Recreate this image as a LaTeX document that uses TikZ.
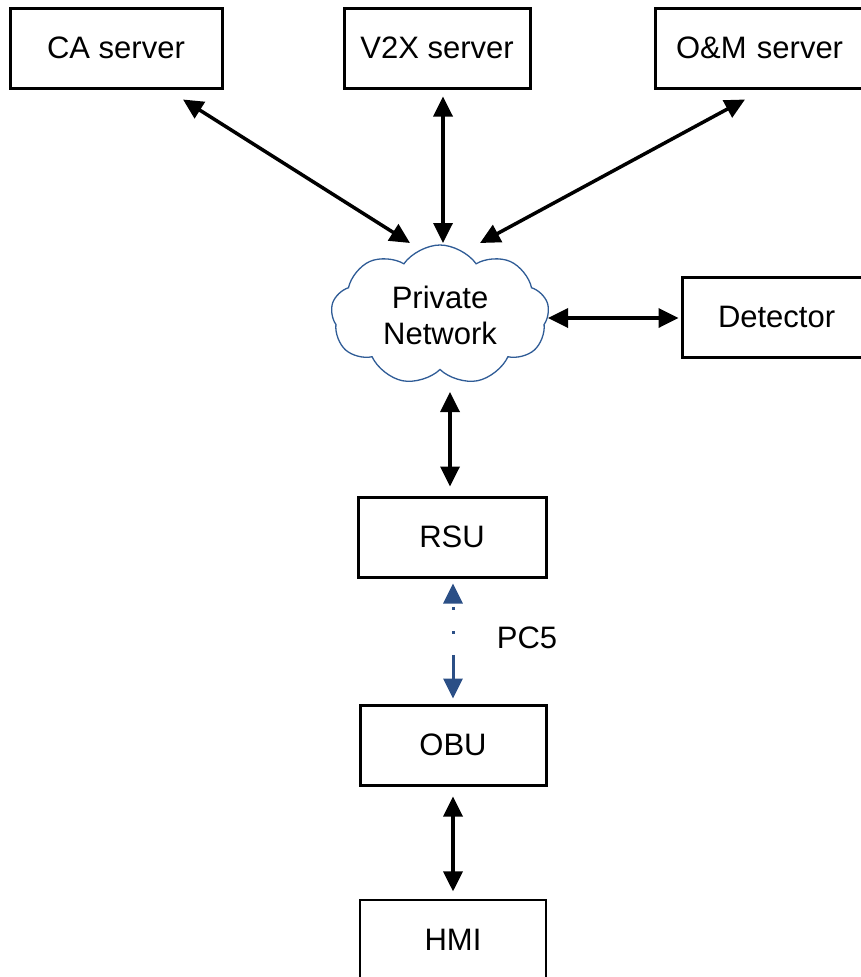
\documentclass[tikz,border=0pt]{standalone}
\usepackage{fontspec}
\setmainfont{Liberation Sans}
\usetikzlibrary{arrows.meta,shapes.symbols,calc}
\definecolor{netblue}{HTML}{2F5C96}
\definecolor{pcblue}{HTML}{2B4F86}
\begin{document}
\begin{tikzpicture}[x=1pt,y=-1pt,
  box/.style={draw=black,line width=3pt,rectangle,inner sep=0pt,font=\fontsize{31}{35}\selectfont},
  thinbox/.style={draw=black,line width=1.2pt,rectangle,inner sep=0pt,font=\fontsize{31}{35}\selectfont},
  link/.style={line width=3.5pt,{Triangle[length=20pt,width=19pt]}-{Triangle[length=20pt,width=19pt]}},
  pclink/.style={draw=pcblue,line width=3pt,{Triangle[length=20pt,width=19pt,fill=pcblue]}-{Triangle[length=20pt,width=19pt,fill=pcblue]}},
  lbl/.style={font=\fontsize{31}{35}\selectfont}]
\useasboundingbox (0,0) rectangle (861,977);
\node[box,minimum width=212pt,minimum height=80pt] (ca) at (116,48) {CA server};
\node[box,minimum width=186pt,minimum height=80pt] (v2x) at (437,48) {V2X server};
\node[box,minimum width=210pt,minimum height=80pt,text width=210pt,align=left] (om) at (760,48) {\hspace*{21pt}O\&M server};
\node[cloud,draw=netblue,line width=1.3pt,cloud puffs=9,cloud puff arc=110,aspect=1.6,
  minimum width=218pt,minimum height=140pt,inner sep=0pt,align=center,
  font=\fontsize{31}{36}\selectfont] (net) at (440,315) {Private\\Network};
\node[box,minimum width=190pt,minimum height=80pt,text width=190pt,align=left] (det) at (777,317) {\hspace*{36pt}Detector};
\node[box,minimum width=188pt,minimum height=80pt] (rsu) at (452,537) {RSU};
\node[box,minimum width=186pt,minimum height=80pt] (obu) at (453,745) {OBU};
\node[thinbox,minimum width=186pt,minimum height=80pt] (hmi) at (453,940) {HMI};
\node[lbl] (pc5) at (527,638) {PC5};
\draw[link] ([shift={(67,10)}]ca.south) -- ([shift={(-30,-72)}]net.center);
\draw[link] ([shift={(6,7)}]v2x.south) -- ([shift={(3,-72)}]net.center);
\draw[link] ([shift={(-15,10)}]om.south) -- ([shift={(40,-72)}]net.center);
\draw[link] ([shift={(108,3)}]net.center) -- ([shift={(-2,1)}]det.west);
\draw[link] ([shift={(10,77)}]net.center) -- ([shift={(-2,-9)}]rsu.north);
\draw[pclink,dash pattern=on 0pt off 4pt on 3pt off 21pt on 3pt off 21pt on 60pt]
  ([shift={(1,5)}]rsu.south) -- ([shift={(0,-5)}]obu.north);
\draw[link] ([shift={(0,10)}]obu.south) -- ([shift={(0,-8)}]hmi.north);
\end{tikzpicture}
\end{document}
